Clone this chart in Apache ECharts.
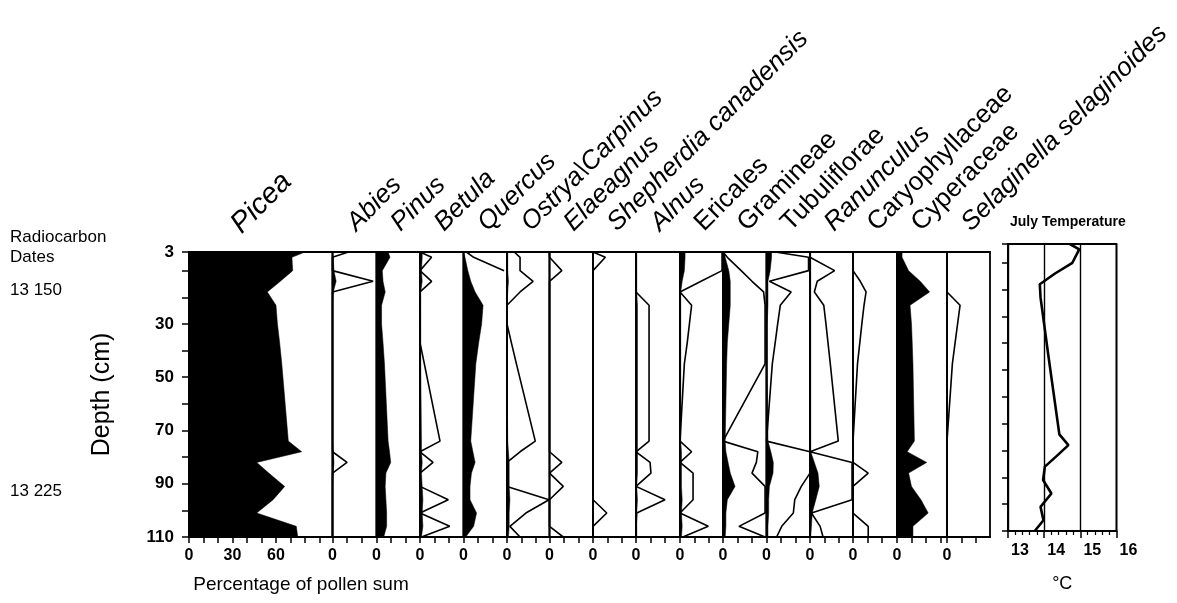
<!DOCTYPE html>
<html><head><meta charset="utf-8">
<script src="https://cdn.jsdelivr.net/npm/echarts@6/dist/echarts.min.js"></script>
<style>html,body{margin:0;padding:0;background:#fff}#c{width:1177px;height:603px}</style>
</head><body><div id="c"></div>
<script>
// ---------- data ----------
const depths = [3, 5, 10, 14, 18, 23, 30, 37, 45, 74, 78, 82, 86, 91, 96, 101, 106, 110];

const piceaFill = [80, 71, 71.5, 63, 54, 60, 61, 62.5, 64, 68.5, 77.7, 46.7, 55, 66, 58, 46.7, 74, 75];
const abiesLine = [11, 0, 0, 28, 0, 0, 0, 0, 0, 0, 0, 10, 0, 0, 0, 0, 0, 0];
const abiesFill = [0, 0.5, 1, 2.5, 0.5, 0, 0, 0, 0, 0, 0.5, 1, 0.5, 0, 0, 0, 0, 0];
const pinusFill = [8, 9.3, 4, 4.5, 6, 3.5, 3.5, 4.5, 5.5, 8, 9, 9.8, 6.5, 6, 6.5, 7, 7, 5];
const betulaLine = [0, 8, 0, 8, 0, 0, 0, 0, 3, 13.8, 0, 9, 0, 0, 19.5, 0, 20.5, 1];
const betulaFill = [1.5, 1.5, 1, 1.5, 0.5, 0.5, 0.5, 0.5, 0.5, 1, 1, 1.5, 1, 1.5, 2, 1.5, 2, 1];
const quercusFill = [0, 1, 3, 5, 8, 13.5, 12.5, 10.5, 8.5, 5, 6.5, 8, 5.5, 4.5, 4.5, 9, 7, 1.5];
const quercusLine = [2, 7, 28, null, null, null, null, null, null, null, null, null, null, null, null, null, null, null];
const ostryaLine = [5, 9, 9, 18, 9, 0, 0, 3, 6.5, 19.5, 9, 0, 0, 0, 29, 13, 2, 9];
const ostryaFill = [0.5, 0.5, 0.5, 1, 0.5, 0, 0, 0, 0, 0.5, 1, 1.5, 1.5, 1.5, 2, 1.5, 1.5, 1];
const elaeagnusLine = [0, 0, 8.5, 0, 0, 0, 0, 0, 0, 0, 0, 8.5, 0, 9.5, 0, 0, 0, 9.5];
const shepherdiaLine = [0, 8.5, 0, 0, 0, 0, 0, 0, 0, 0, 0, 0, 0, 0, 0, 9.5, 0, 0];
const alnusLine = [0, 0, 0, 0, 0, 9, 9, 9, 9, 9, 0, 9.7, 10.3, 0, 20, 0.5, 0, 0];
const alnusFill = [0.5, 0.5, 0.5, 0.5, 0.5, 1, 1, 1, 1, 1, 1, 1, 1, 0.5, 1, 0.5, 0.5, 0.5];
const ericalesLine = [29, 29, 29, 14.5, 0, 8, 6.5, 5, 3, 0, 8, 0, 9, 9, 9, 0, 19.5, 2];
const ericalesFill = [3.5, 3.5, 3, 1.5, 0.5, 0.5, 0.5, 0.5, 0.5, 0.5, 1, 1, 1, 1, 1.5, 1, 1.5, 1];
const gramineaeLine = [0, 3, 12.5, 20, 28, 29, 29, 29, 29, 0, 24, 23, 20, 29, 29, 29, 11, 29];
const gramineaeFill = [1, 1.5, 4, 5, 5, 5, 4, 3, 2.5, 1.5, 2, 3.5, 5, 8.3, 3, 2, 2, 1.5];
const tubulifloraeLine = [6, 29, 29, 2, 17, 9.5, 7.7, 6, 4, 0, 30, 30, 30, 24, 19.5, 18.5, 10.5, 7];
const tubulifloraeFill = [3.5, 3.5, 2.5, 1, 1, 1, 0.5, 0.5, 0.5, 1, 3, 4.7, 4.5, 2, 1.5, 1.5, 1, 1];
const ranunculusLine = [0, 0, 17, 5, 3, 9.5, 11, 12.4, 14, 19.5, 0, 29, 29, 29, 29, 1, 7, 9];
const ranunculusFill = [0.5, 0.5, 0.5, 0.5, 0.5, 0.5, 0.5, 0.5, 0.5, 0.5, 0.5, 3, 5.5, 6.4, 4, 1.5, 1, 0.5];
const caryophyllaceaeLine = [0, 0, 0, 5, 9, 7.6, 6.1, 4.7, 3.1, 0, 0, 0, 10.5, 0, 0, 0, 10.5, 10.5];
const cyperaceaeFill = [3.5, 3.5, 8, 16, 22.5, 9, 10, 10.5, 11, 12, 7, 20.5, 8, 10, 16.5, 21.5, 11, 11];
const selaginellaLine = [0, 0, 0, 0, 0, 9, 7.3, 5.6, 3.7, 0, 0, 0, 0, 0, 0, 0, 0, 0];
const julyTemp = [14.71, 14.97, 14.78, 14.3, 13.88, 13.9, 13.97, 14.04, 14.12, 14.42, 14.67, 14.35, 14.02, 13.97, 14.2, 13.9, 13.98, 13.74];

const depthTicks = [3, 10, 20, 30, 40, 50, 60, 70, 80, 90, 100, 110];
const depthLabels = [3, 30, 50, 70, 90, 110];
const piceaLabels = [0, 30, 60];
const tempLabels = [13, 14, 15, 16];
const radiocarbonDates = [['13 150', 17.3], ['13 225', 93]];

const taxa = [
  {name: 'Picea', italic: true, fill: piceaFill, line: null},
  {name: 'Abies', italic: true, fill: abiesFill, line: abiesLine},
  {name: 'Pinus', italic: true, fill: pinusFill, line: null},
  {name: 'Betula', italic: true, fill: betulaFill, line: betulaLine},
  {name: 'Quercus', italic: true, fill: quercusFill, line: quercusLine},
  {name: 'Ostrya\\Carpinus', italic: true, fill: ostryaFill, line: ostryaLine},
  {name: 'Elaeagnus', italic: true, fill: null, line: elaeagnusLine},
  {name: 'Shepherdia canadensis', italic: true, fill: null, line: shepherdiaLine},
  {name: 'Alnus', italic: true, fill: alnusFill, line: alnusLine},
  {name: 'Ericales', italic: false, fill: ericalesFill, line: ericalesLine},
  {name: 'Gramineae', italic: false, fill: gramineaeFill, line: gramineaeLine},
  {name: 'Tubuliflorae', italic: false, fill: tubulifloraeFill, line: tubulifloraeLine},
  {name: 'Ranunculus', italic: true, fill: ranunculusFill, line: ranunculusLine},
  {name: 'Caryophyllaceae', italic: false, fill: null, line: caryophyllaceaeLine},
  {name: 'Cyperaceae', italic: false, fill: cyperaceaeFill, line: null},
  {name: 'Selaginella selaginoides', italic: true, fill: null, line: selaginellaLine}
];

// ---------- layout (style) ----------
const FONT = "'Liberation Sans', Arial, Helvetica, sans-serif";
const TOP = 252, BOTTOM = 537, PX = 1.45, TICK_STEP = 10;
const lefts = [189, 332.5, 376.5, 420, 463.5, 507, 549.5, 593, 636, 680, 723, 766.5, 810, 853, 897, 947, 990];
const ROT = 45 * Math.PI / 180;

const chart = echarts.init(document.getElementById('c'));
const grids = [], xAxes = [], yAxes = [], series = [], graphics = [];

function pairs(vals) { return depths.map((d, i) => vals[i] == null ? ['-', d] : [vals[i], d]); }
function fillSeries(vals, k) {
  return {
    type: 'custom', xAxisIndex: k, yAxisIndex: k, silent: true, clip: false,
    encode: {x: 0, y: 1}, data: pairs(vals),
    renderItem: function (params, api) {
      if (params.dataIndex !== 0) return;
      const pts = [api.coord([0, depths[0]])];
      vals.forEach((v, i) => pts.push(api.coord([v, depths[i]])));
      pts.push(api.coord([0, depths[depths.length - 1]]));
      return {type: 'polygon', shape: {points: pts}, style: {fill: '#000', stroke: '#000', lineWidth: 0.5}};
    }
  };
}
function lineSeries(vals, k, w) {
  return {
    type: 'line', xAxisIndex: k, yAxisIndex: k, data: pairs(vals), showSymbol: false, symbol: 'none',
    clip: false, silent: true, connectNulls: false,
    lineStyle: {color: '#000', width: w}
  };
}

taxa.forEach((t, k) => {
  const L = lefts[k], W = lefts[k + 1] - L, max = W / PX;
  grids.push({left: L, top: TOP, width: W, height: BOTTOM - TOP, show: true,
    borderColor: '#000', borderWidth: 1.8, backgroundColor: 'rgba(0,0,0,0)'});
  const ticks = [];
  for (let v = 0; v < max - 1; v += TICK_STEP) ticks.push(v);
  xAxes.push({
    type: 'value', gridIndex: k, min: 0, max: max, position: 'bottom',
    axisLine: {show: true, lineStyle: {color: '#000', width: 1.8}},
    axisTick: {show: true, length: 6, customValues: ticks, lineStyle: {color: '#000', width: 1.5}},
    axisLabel: {show: true, customValues: k === 0 ? piceaLabels : [0], color: '#000', fontSize: 16,
      fontWeight: 'bold', fontFamily: FONT, margin: 11},
    splitLine: {show: false}
  });
  if (k === 0) {
    yAxes.push({
      type: 'value', gridIndex: 0, inverse: true, min: 3, max: 110,
      axisLine: {show: true, lineStyle: {color: '#000', width: 1.8}},
      axisTick: {show: true, length: 7, customValues: depthTicks, lineStyle: {color: '#000', width: 1.5}},
      axisLabel: {show: true, customValues: depthLabels, color: '#000', fontSize: 17, fontWeight: 'bold',
        fontFamily: FONT, margin: 15},
      splitLine: {show: false},
      name: 'Depth (cm)', nameLocation: 'middle', nameGap: 74, nameRotate: 90,
      nameTextStyle: {fontSize: 25, color: '#000', fontFamily: FONT}
    });
  } else {
    yAxes.push({type: 'value', gridIndex: k, inverse: true, min: 3, max: 110, show: false});
  }
  if (t.fill) series.push(fillSeries(t.fill, k));
  if (t.line) series.push(lineSeries(t.line, k, 1.6));
  const big = k === 0;
  graphics.push({
    type: 'text', x: big ? 246 : L + 28, y: big ? 239 : 236, rotation: ROT, silent: true,
    style: {text: t.name, fill: '#000', fontSize: big ? 29 : 26, fontFamily: FONT,
      fontStyle: t.italic ? 'italic' : 'normal',
      align: 'left', verticalAlign: 'bottom', textAlign: 'left', textVerticalAlign: 'bottom'}
  });
});

// temperature panel
const TI = taxa.length;
grids.push({left: 1008, top: 244, width: 108.5, height: 287, show: true, borderColor: '#000',
  borderWidth: 1.8, backgroundColor: 'rgba(0,0,0,0)'});
xAxes.push({
  type: 'value', gridIndex: TI, min: 13, max: 16, interval: 1, position: 'bottom',
  axisLine: {show: true, lineStyle: {color: '#000', width: 1.8}},
  axisTick: {show: true, length: 7, lineStyle: {color: '#000', width: 1.5}},
  minorTick: {show: true, splitNumber: 5, length: 4, lineStyle: {color: '#000', width: 1.2}},
  axisLabel: {show: true, customValues: tempLabels, color: '#000', fontSize: 16, fontWeight: 'bold',
    fontFamily: FONT, margin: 12, padding: [0, 0, 0, 24]},
  splitLine: {show: true, lineStyle: {color: '#000', width: 1.4}},
  name: '°C', nameLocation: 'middle', nameGap: 44,
  nameTextStyle: {fontSize: 18, color: '#000', fontFamily: FONT}
});
yAxes.push({
  type: 'value', gridIndex: TI, inverse: true, min: 3, max: 110,
  axisLine: {show: true, lineStyle: {color: '#000', width: 1.8}},
  axisTick: {show: true, length: 6, customValues: depthTicks, lineStyle: {color: '#000', width: 1.5}},
  axisLabel: {show: false}, splitLine: {show: false}
});
series.push({
  type: 'line', xAxisIndex: TI, yAxisIndex: TI, showSymbol: false, symbol: 'none', silent: true, clip: false,
  data: depths.map((d, i) => [julyTemp[i], d]), lineStyle: {color: '#000', width: 2.6}
});

// texts
function txt(s, x, y, size, extra) {
  return Object.assign({type: 'text', x: x, y: y, silent: true,
    style: Object.assign({text: s, fill: '#000', fontSize: size, fontFamily: FONT,
      align: 'left', verticalAlign: 'middle', textAlign: 'left', textVerticalAlign: 'middle'}, extra || {})});
}
graphics.push(txt('July Temperature', 1010, 222, 14, {fontWeight: 'bold'}));
graphics.push(txt('Radiocarbon', 10, 237, 17));
graphics.push(txt('Dates', 10, 257, 17));
graphics.push(txt('Percentage of pollen sum', 301, 585, 19, {align: 'center', textAlign: 'center'}));

chart.setOption({
  animation: false, backgroundColor: '#fff',
  grid: grids, xAxis: xAxes, yAxis: yAxes, series: series, graphic: graphics
});

// radiocarbon date labels placed on the depth scale
const dateTexts = radiocarbonDates.map(([s, d]) => {
  const p = chart.convertToPixel({gridIndex: 0}, [0, d]);
  return txt(s, 10, p[1], 17);
});
chart.setOption({graphic: graphics.concat(dateTexts)});
</script></body></html>
